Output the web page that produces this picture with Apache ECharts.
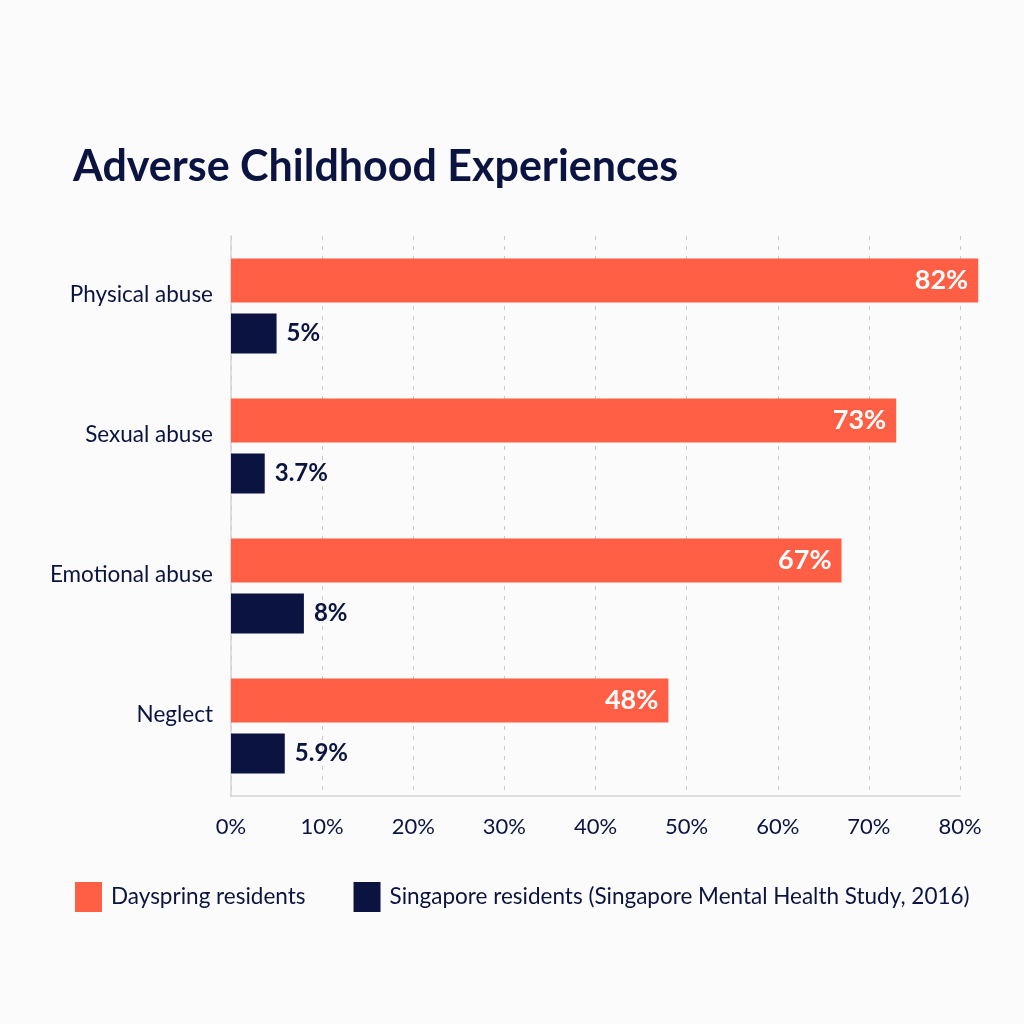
<!DOCTYPE html>
<html>
<head>
<meta charset="utf-8">
<title>Adverse Childhood Experiences</title>
<script src="https://cdn.jsdelivr.net/npm/echarts@6/dist/echarts.min.js"></script>
<style>
  html,body{margin:0;padding:0;background:#fbfbfb;}
  #main{width:1024px;height:1024px;}
</style>
</head>
<body>
<div id="main"></div>
<script>
// categories, top to bottom
var categories = ["Physical abuse", "Sexual abuse", "Emotional abuse", "Neglect"];
var dayspring = [82, 73, 67, 48];
var singapore = [5, 3.7, 8, 5.9];
var seriesNames = ["Dayspring residents", "Singapore residents (Singapore Mental Health Study, 2016)"];
var xTicks = [0, 10, 20, 30, 40, 50, 60, 70, 80];

var ORANGE = "#ff5f45";
var NAVY = "#0b1340";
var FONT = "Lato, 'Noto Sans', sans-serif";

var chart = echarts.init(document.getElementById("main"));

var option = {
    backgroundColor: "#fbfbfb",
    animation: false,
    title: {
        text: "Adverse Childhood Experiences",
        left: 68,
        top: 141,
        textStyle: {
            fontFamily: FONT,
            fontSize: 43,
            fontWeight: "bold",
            color: NAVY
        }
    },
    legend: {
        left: 70,
        top: 877,
        itemWidth: 27,
        itemHeight: 30,
        itemGap: 48,
        icon: "rect",
        textStyle: {
            fontFamily: FONT,
            fontSize: 22.5,
            color: NAVY,
            padding: [0, 0, 0, 4]
        },
        data: seriesNames
    },
    grid: {
        left: 231,
        right: 64,
        top: 236,
        bottom: 228,
        containLabel: false
    },
    xAxis: {
        type: "value",
        min: xTicks[0],
        max: xTicks[xTicks.length - 1],
        interval: 10,
        axisLine: {show: true, lineStyle: {color: "#d4d4d8", width: 1.5}},
        axisTick: {show: false},
        axisLabel: {
            margin: 20,
            fontFamily: FONT,
            fontSize: 22,
            color: NAVY,
            formatter: function(v){ return v + "%"; }
        },
        splitLine: {show: true, lineStyle: {color: "#c8c8cc", type: [4, 6]}}
    },
    yAxis: {
        type: "category",
        data: categories,
        inverse: true,
        axisLine: {show: true, lineStyle: {color: "#d4d4d8", width: 1.5}},
        axisTick: {show: false},
        axisLabel: {
            margin: 18,
            fontFamily: FONT,
            fontSize: 22.5,
            color: NAVY,
            verticalAlign: "bottom"
        }
    },
    series: [
        {
            name: seriesNames[0],
            type: "bar",
            data: dayspring,
            barWidth: 44,
            barGap: "25%",
            clip: false, // 82% runs past the 80% gridline like in the original
            itemStyle: {color: ORANGE},
            label: {
                show: true,
                position: "insideRight",
                distance: 10,
                formatter: "{c}%",
                fontFamily: FONT,
                fontSize: 27,
                fontWeight: "bold",
                color: "#ffffff"
            }
        },
        {
            name: seriesNames[1],
            type: "bar",
            data: singapore,
            barWidth: 40,
            clip: false,
            itemStyle: {color: NAVY},
            label: {
                show: true,
                position: "right",
                distance: 10,
                formatter: "{c}%",
                fontFamily: FONT,
                fontSize: 24,
                fontWeight: "bold",
                color: NAVY
            }
        }
    ]
};

chart.setOption(option);
</script>
</body>
</html>
